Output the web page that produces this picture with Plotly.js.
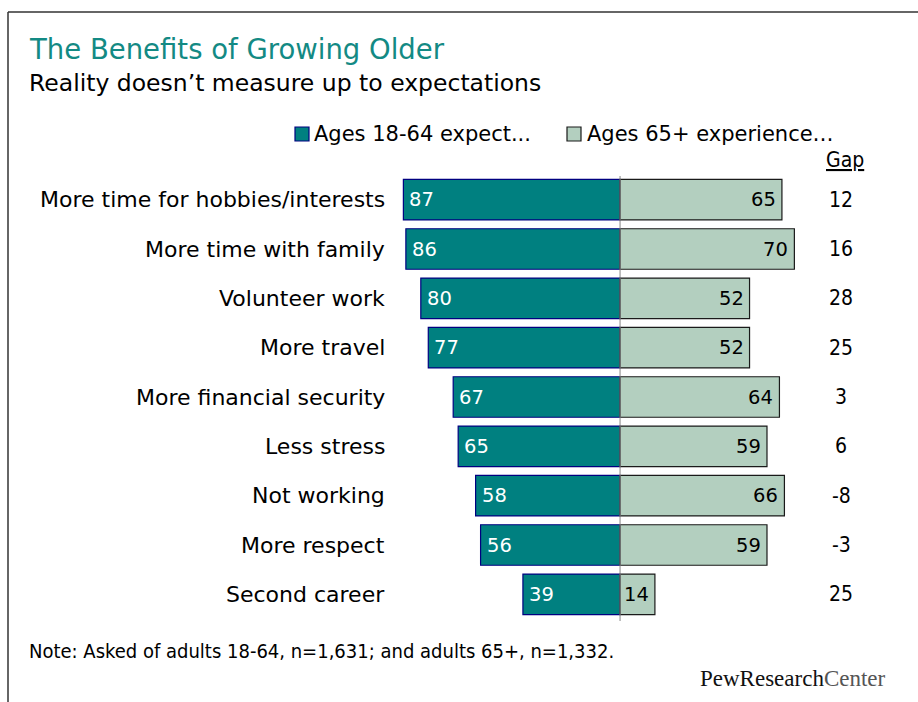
<!DOCTYPE html>
<html>
<head>
<meta charset="utf-8">
<script src="https://cdn.plot.ly/plotly-3.0.1.min.js"></script>
<style>
html,body{margin:0;padding:0;background:#fff;}
#chart{width:918px;height:702px;}
</style>
</head>
<body>
<div id="chart"></div>
<script>
var categories = ["More time for hobbies/interests","More time with family","Volunteer work","More travel","More financial security","Less stress","Not working","More respect","Second career"];
var expect1864 = [87,86,80,77,67,65,58,56,39];
var experience65 = [65,70,52,52,64,59,66,59,14];
var gapValues = ["12","16","28","25","3","6","-8","-3","25"];
var seriesNames = ["Ages 18-64 expect...","Ages 65+ experience\u2026"];

var W = 918, H = 702;
var mL = 371, mR = 24, mT = 175, mB = 83;
var pw = W - mL - mR, ph = H - mT - mB;
function px(x){ return (x - mL) / pw; }
function py(y){ return (H - mB - y) / ph; }

var FONT = "DejaVu Sans";
var NARROW = "DejaVu Sans Condensed";
var teal = "#008080", light = "#b3cfbf";

var traces = [
  {type:"bar", orientation:"h", y:categories, x:expect1864.map(function(v){return -v;}),
   name:seriesNames[0], marker:{color:teal, line:{color:"#000080", width:1.2}},
   width:0.82, hoverinfo:"skip"},
  {type:"bar", orientation:"h", y:categories, x:experience65,
   name:seriesNames[1], marker:{color:light, line:{color:"#1a1a1a", width:1.2}},
   width:0.82, hoverinfo:"skip"}
];

var ann = [];
categories.forEach(function(c,i){
  ann.push({x:-93.5, y:c, xref:"x", yref:"y", text:c, showarrow:false, xanchor:"right",
            font:{family:FONT, size:22, color:"#000"}});
  ann.push({x:-expect1864[i], y:c, xref:"x", yref:"y", text:String(expect1864[i]), showarrow:false,
            xanchor:"left", xshift:4, font:{family:FONT, size:19.5, color:"#fff"}});
  ann.push({x:experience65[i], y:c, xref:"x", yref:"y", text:String(experience65[i]), showarrow:false,
            xanchor:"right", xshift:-4, font:{family:FONT, size:19.5, color:"#000"}});
  ann.push({x:px(841), y:c, xref:"paper", yref:"y", text:gapValues[i], showarrow:false,
            xanchor:"center", font:{family:NARROW, size:21, color:"#000"}});
});
ann.push({x:px(845), y:py(160), xref:"paper", yref:"paper", text:"<u>Gap</u>", showarrow:false,
          xanchor:"center", yanchor:"middle", font:{family:NARROW, size:21, color:"#000"}});
// title / subtitle
ann.push({x:px(27), y:py(49), xref:"paper", yref:"paper", text:"The Benefits of Growing Older", showarrow:false,
          xanchor:"left", yanchor:"middle", font:{family:FONT, size:27.5, color:"#138a84"}});
ann.push({x:px(27), y:py(83), xref:"paper", yref:"paper", text:"Reality doesn\u2019t measure up to expectations", showarrow:false,
          xanchor:"left", yanchor:"middle", font:{family:FONT, size:23.5, color:"#000"}});
// legend
ann.push({x:px(312), y:py(134), xref:"paper", yref:"paper", text:seriesNames[0], showarrow:false,
          xanchor:"left", yanchor:"middle", font:{family:FONT, size:21, color:"#000"}});
ann.push({x:px(585), y:py(134), xref:"paper", yref:"paper", text:seriesNames[1], showarrow:false,
          xanchor:"left", yanchor:"middle", font:{family:FONT, size:21, color:"#000"}});
// note
ann.push({x:px(27), y:py(651), xref:"paper", yref:"paper", text:"Note: Asked of adults 18-64, n=1,631; and adults 65+, n=1,332.", showarrow:false,
          xanchor:"left", yanchor:"middle", font:{family:NARROW, size:20, color:"#000"}});
ann.push({x:px(888), y:py(678), xref:"paper", yref:"paper", text:"PewResearch<span style='color:#555'>Center</span>", showarrow:false,
          xanchor:"right", yanchor:"middle", font:{family:"Liberation Serif", size:23, color:"#111"}});

var shapes = [
  {type:"line", xref:"paper", yref:"paper", x0:px(8), x1:px(8), y0:py(12), y1:py(702), line:{color:"#333", width:1.5}},
  {type:"line", xref:"paper", yref:"paper", x0:px(8), x1:px(918), y0:py(12), y1:py(12), line:{color:"#333", width:1.5}},
  {type:"line", xref:"x", yref:"paper", x0:0, x1:0, y0:py(621), y1:py(176), line:{color:"#888", width:1}},
  {type:"rect", xref:"paper", yref:"paper", x0:px(295), x1:px(309), y0:py(141), y1:py(127), fillcolor:teal, line:{color:"#000080", width:1.2}},
  {type:"rect", xref:"paper", yref:"paper", x0:px(567), x1:px(581), y0:py(141), y1:py(127), fillcolor:light, line:{color:"#1a1a1a", width:1.2}}
];

var layout = {
  width:W, height:H, margin:{l:mL, r:mR, t:mT, b:mB, pad:0},
  paper_bgcolor:"#fff", plot_bgcolor:"#fff",
  barmode:"relative", showlegend:false,
  xaxis:{range:[-100,110], visible:false, fixedrange:true},
  yaxis:{type:"category", autorange:"reversed", visible:false, fixedrange:true},
  annotations:ann, shapes:shapes
};
Plotly.newPlot("chart", traces, layout, {displayModeBar:false, staticPlot:true});
</script>
</body>
</html>
